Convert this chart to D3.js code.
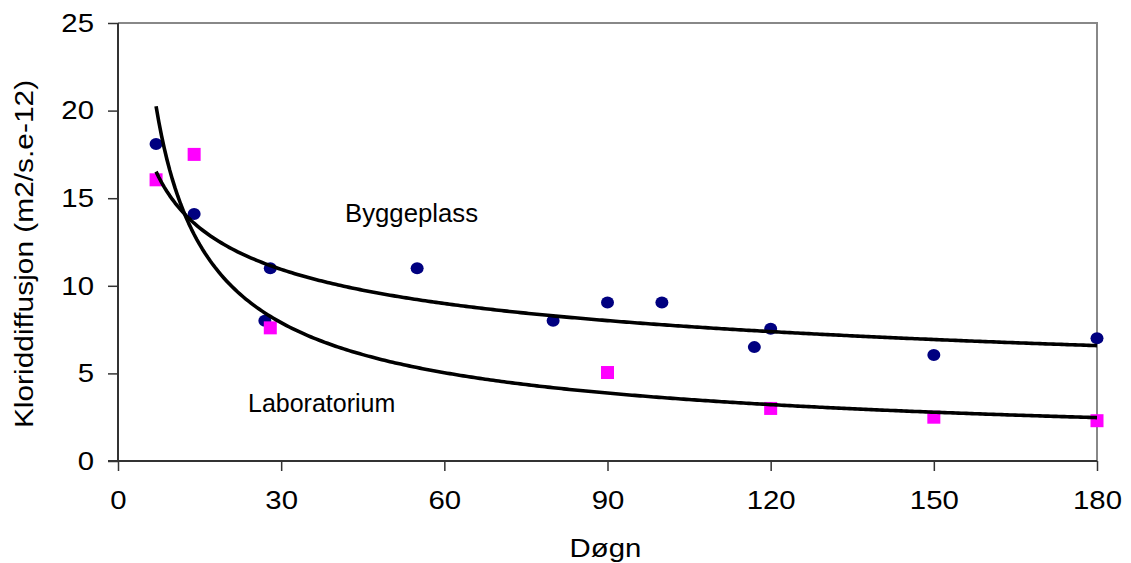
<!DOCTYPE html>
<html>
<head>
<meta charset="utf-8">
<script src="https://cdn.jsdelivr.net/npm/d3@7"></script>
<style>
  html, body { margin: 0; padding: 0; background: #fff; }
  svg text { font-family: "Liberation Sans", Arial, sans-serif; fill: #000; }
</style>
</head>
<body>
<svg id="chart" width="1131" height="563"></svg>
<script>
// ---- data ----
const byggDays   = [7, 14, 27, 28, 55, 80, 90, 100, 117, 120, 150, 180];
const byggValues = [18.1, 14.1, 8.0, 11.0, 11.0, 8.0, 9.05, 9.05, 6.5, 7.55, 6.05, 7.0];
const labDays    = [7, 14, 28, 90, 120, 150, 180];
const labValues  = [16.05, 17.5, 7.6, 5.05, 3.0, 2.5, 2.3];
const xTicks = [0, 30, 60, 90, 120, 150, 180];
const yTicks = [0, 5, 10, 15, 20, 25];
const xTitle = "Døgn";
const yTitle = "Kloriddiffusjon (m2/s.e-12)";
const labelBygg = "Byggeplass";
const labelLab = "Laboratorium";

// ---- layout ----
const svg = d3.select("#chart");
const L = 118, R = 1097, T = 23, B = 461;
const x = d3.scaleLinear().domain([0, 180]).range([L, R]);
const y = d3.scaleLinear().domain([0, 25]).range([B, T]);
const stretch = 1.13;

// plot border (grey top/right)
svg.append("path")
  .attr("d", `M${L},${T}H${R}V${B}`)
  .attr("fill", "none").attr("stroke", "#888").attr("stroke-width", 2);

// axes
const fontSize = 26;
const yAxis = svg.append("g").attr("transform", `translate(${L},0)`)
  .call(d3.axisLeft(y).tickValues(yTicks).tickSize(10).tickPadding(14).tickFormat(d3.format("d")));
const xAxis = svg.append("g").attr("transform", `translate(0,${B})`)
  .call(d3.axisBottom(x).tickValues(xTicks).tickSize(10).tickPadding(20).tickFormat(d3.format("d")));
[yAxis, xAxis].forEach(g => {
  g.select(".domain").attr("stroke", "#333").attr("stroke-width", 2);
  g.selectAll(".tick line").attr("stroke", "#333").attr("stroke-width", 1.5);
  g.selectAll(".tick text")
    .attr("font-size", fontSize)
    .attr("font-family", "Liberation Sans, Arial, sans-serif")
    .attr("fill", "#000")
    .each(function () {
      const tx = +this.getAttribute("x") || 0;
      const ty = +this.getAttribute("y") || 0;
      d3.select(this).attr("x", 0).attr("y", 0)
        .attr("transform", `translate(${tx},${ty}) scale(${stretch},1)`);
    });
});
yAxis.select(".domain").attr("d", `M0,${B}V${T}`);
xAxis.select(".domain").attr("d", `M${L - 10},0H${R}`);

// power regression (Excel-style trendline) computed from the series
function powerFit(xs, ys) {
  const lx = xs.map(Math.log), ly = ys.map(Math.log);
  const mx = d3.mean(lx), my = d3.mean(ly);
  const b = d3.sum(lx, (v, i) => (v - mx) * (ly[i] - my)) / d3.sum(lx, v => (v - mx) ** 2);
  const a = Math.exp(my - b * mx);
  return t => a * Math.pow(t, b);
}

// markers
svg.append("g").selectAll("ellipse")
  .data(d3.zip(byggDays, byggValues)).join("ellipse")
  .attr("cx", d => x(d[0])).attr("cy", d => y(d[1]))
  .attr("rx", 6.5).attr("ry", 6)
  .attr("fill", "#000080");

const sq = 13;
svg.append("g").selectAll("rect")
  .data(d3.zip(labDays, labValues)).join("rect")
  .attr("x", d => x(d[0]) - sq / 2).attr("y", d => y(d[1]) - sq / 2)
  .attr("width", sq).attr("height", sq)
  .attr("fill", "#ff00ff");

// trendlines
const line = d3.line().x(d => x(d[0])).y(d => y(d[1]));
[[byggDays, byggValues], [labDays, labValues]].forEach(([xs, ys]) => {
  const f = powerFit(xs, ys);
  const x0 = d3.min(xs), x1 = d3.max(xs);
  const pts = d3.range(x0, x1 + 0.001, 0.5).map(t => [t, f(t)]);
  svg.append("path").datum(pts).attr("d", line)
    .attr("fill", "none").attr("stroke", "#000").attr("stroke-width", 3.6)
    .attr("stroke-linejoin", "round");
});

// annotations
svg.append("text").attr("transform", "translate(345,222) scale(1.03,1)").attr("font-size", 25).text(labelBygg);
svg.append("text").attr("transform", "translate(248,412) scale(1.0,1)").attr("font-size", 25).text(labelLab);

// axis titles
svg.append("text").attr("transform", `translate(${(L + R) / 2 - 2},557) scale(${stretch},1)`)
  .attr("text-anchor", "middle").attr("font-size", fontSize).text(xTitle);
svg.append("text").attr("transform", `translate(33,${(T + B) / 2 + 12}) rotate(-90) scale(1.15,1)`)
  .attr("text-anchor", "middle").attr("font-size", fontSize).text(yTitle);
</script>
</body>
</html>
